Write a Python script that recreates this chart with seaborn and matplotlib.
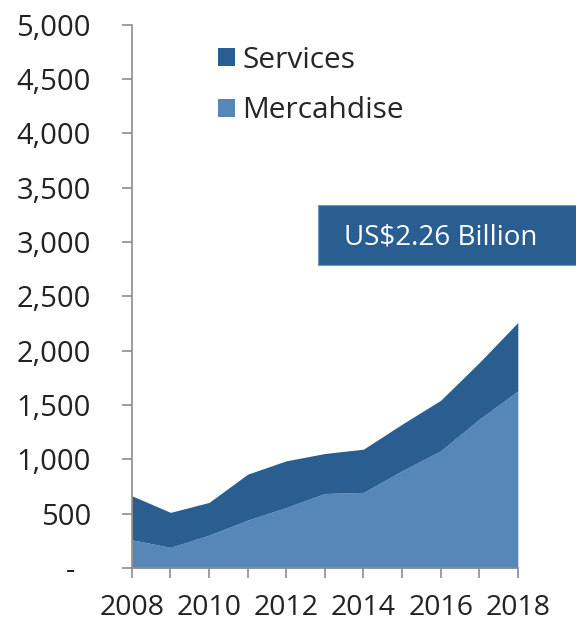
import matplotlib
matplotlib.use("Agg")
import matplotlib.pyplot as plt
from matplotlib.patches import Patch, Rectangle
import numpy as np
import pandas as pd
import seaborn as sns

# Annual export values (US$ millions)
years = [2008, 2009, 2010, 2011, 2012, 2013, 2014, 2015, 2016, 2017, 2018]
merchandise = [260, 190, 303, 441, 558, 686, 696, 895, 1079, 1370, 1630]
services = [405, 322, 301, 423, 429, 368, 398, 429, 465, 521, 630]
series_names = ["Services", "Mercahdise"]
y_ticks = [0, 500, 1000, 1500, 2000, 2500, 3000, 3500, 4000, 4500, 5000]
callout_text = "US$2.26 Billion"

df = pd.DataFrame({"year": years, "Mercahdise": merchandise, "Services": services})

sns.set_style("white")
plt.rcParams["font.family"] = ["Open Sans", "DejaVu Sans"]

dark_blue = "#2A5E91"
light_blue = "#5687B8"
axis_grey = "#8C8C8C"

fig = plt.figure(figsize=(5.76, 6.28), dpi=100)
ax = fig.add_axes([0.229, 0.0955, 0.670, 0.865])

ax.stackplot(df["year"], df["Mercahdise"], df["Services"],
             colors=[light_blue, dark_blue], linewidth=0)

ax.set_xlim(years[0], years[-1])
ax.set_ylim(0, 5000)

ax.set_xticks(years)
ax.set_xticklabels([str(y) if y % 2 == 0 else "" for y in years])
ax.set_yticks(y_ticks)
ax.set_yticklabels(["-  " if v == 0 else f"{v:,}" for v in y_ticks])

for side in ("top", "right"):
    ax.spines[side].set_visible(False)
for side in ("left", "bottom"):
    ax.spines[side].set_color(axis_grey)
    ax.spines[side].set_linewidth(1.2)

ax.tick_params(axis="both", which="both", direction="out", length=7.5,
               width=1.2, color=axis_grey, labelsize=21, labelcolor="#222222")
ax.tick_params(axis="y", pad=22, left=True)
ax.tick_params(axis="x", pad=11.5, bottom=True, labelsize=20.5)

# Legend with square swatches
handles = [Patch(facecolor=dark_blue, edgecolor="none"),
           Patch(facecolor=light_blue, edgecolor="none")]
fig.legend(handles, series_names, loc="upper left",
           bbox_to_anchor=(0.358, 0.946), frameon=False, fontsize=21.5,
           handlelength=0.55, handleheight=0.55, handletextpad=0.25,
           labelspacing=0.72, borderaxespad=0)

# Total value callout box
fig.patches.append(Rectangle((318 / 576, 1 - 265 / 628), 0.46, 60 / 628,
                             transform=fig.transFigure, facecolor=dark_blue,
                             edgecolor="#6F96C2", linewidth=0.8, zorder=5))
fig.text(441 / 576, 1 - 238 / 628, callout_text, color="white", fontsize=20,
         ha="center", va="center", zorder=6)

fig.savefig("out.png", dpi=100)
